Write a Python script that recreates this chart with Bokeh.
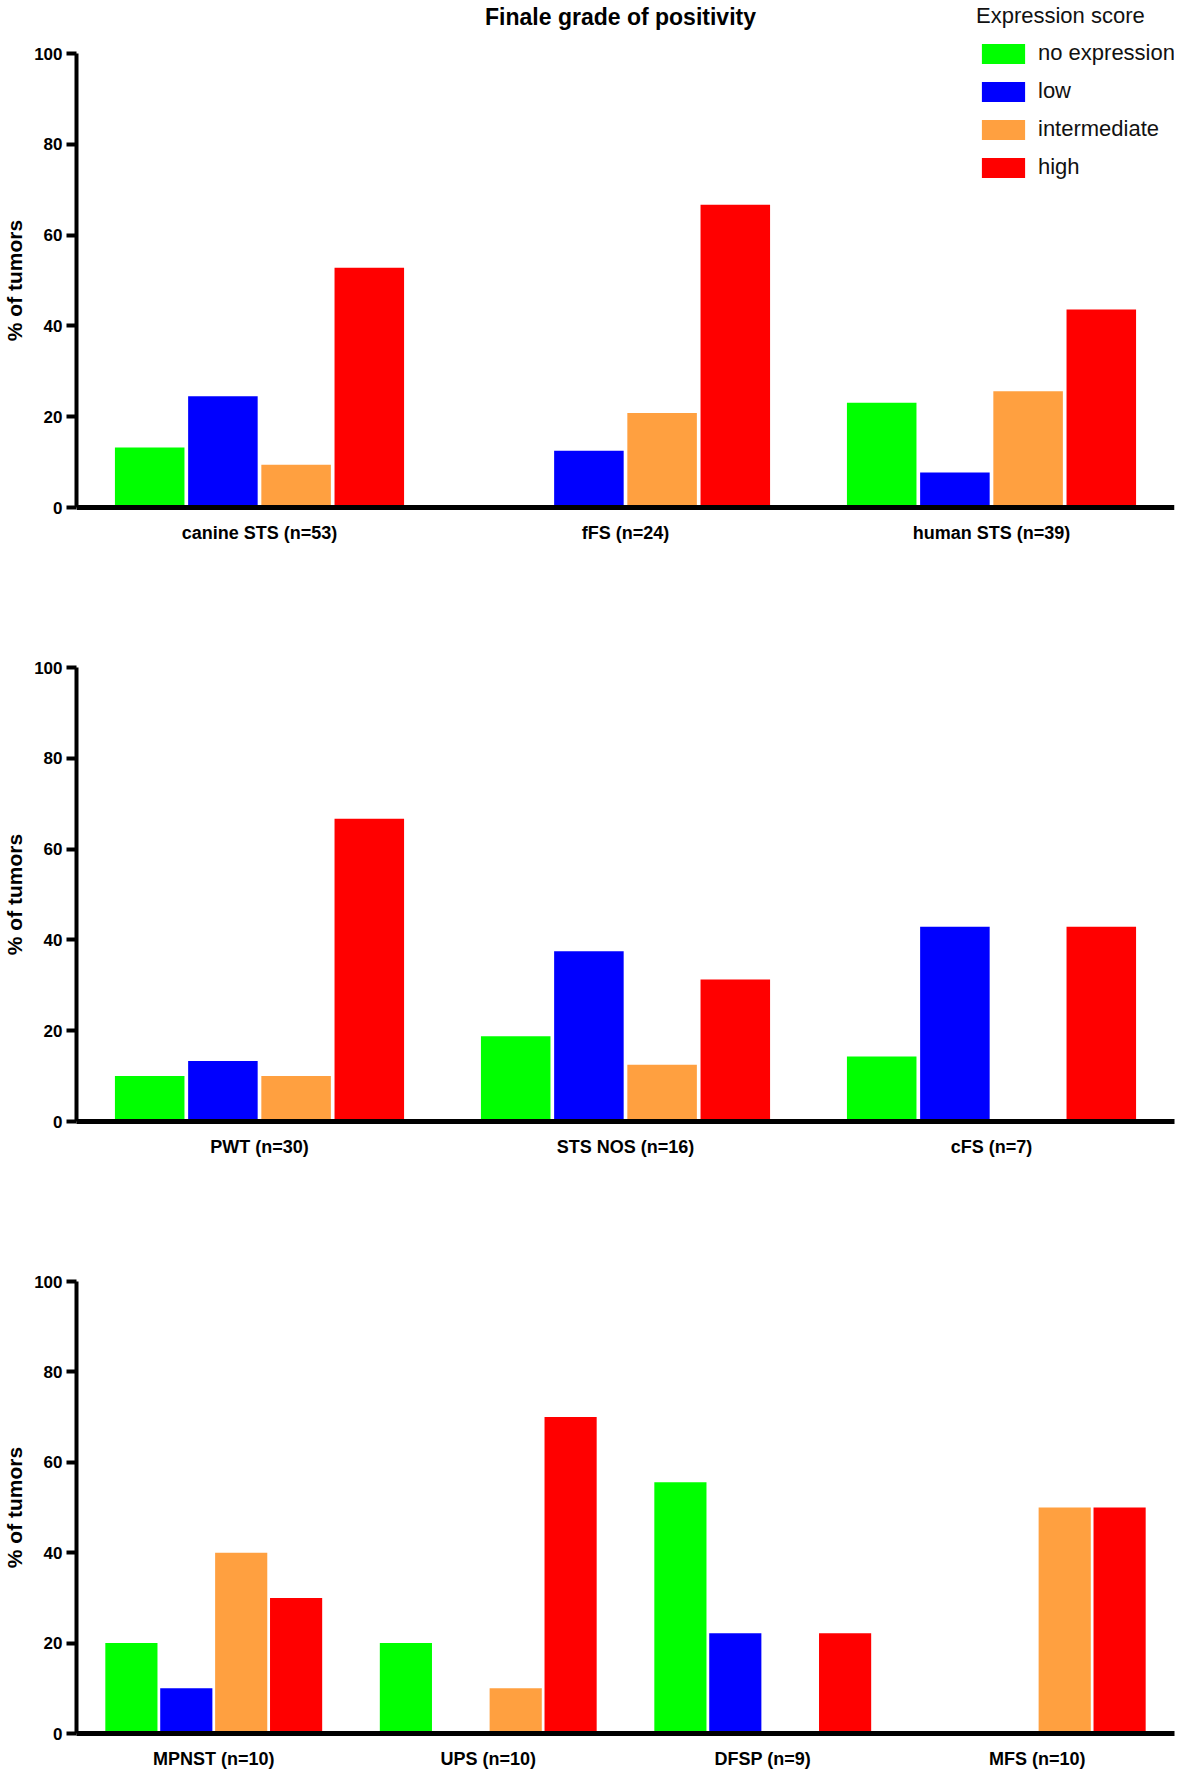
from bokeh.plotting import figure
from bokeh.models import (ColumnDataSource, FactorRange, Range1d, Legend, LegendItem,
                          Label, FixedTicker)
from bokeh.transform import dodge
from bokeh.layouts import column
from bokeh.embed import file_html
from bokeh.resources import INLINE

# ---------------- data ----------------
title_text = "Finale grade of positivity"
legend_title = "Expression score"
scores = ["no expression", "low", "intermediate", "high"]
colors = ["#00FF00", "#0000FF", "#FFA040", "#FF0000"]
y_label = "% of tumors"
y_ticks = [0, 20, 40, 60, 80, 100]

cats_1 = ["canine STS (n=53)", "fFS (n=24)", "human STS (n=39)"]
no_expr_1 = [13.2, 0.0, 23.1]
low_1 = [24.5, 12.5, 7.7]
inter_1 = [9.4, 20.8, 25.6]
high_1 = [52.8, 66.7, 43.6]

cats_2 = ["PWT (n=30)", "STS NOS (n=16)", "cFS (n=7)"]
no_expr_2 = [10.0, 18.8, 14.3]
low_2 = [13.3, 37.5, 42.9]
inter_2 = [10.0, 12.5, 0.0]
high_2 = [66.7, 31.3, 42.9]

cats_3 = ["MPNST (n=10)", "UPS (n=10)", "DFSP (n=9)", "MFS (n=10)"]
no_expr_3 = [20.0, 20.0, 55.6, 0.0]
low_3 = [10.0, 0.0, 22.2, 0.0]
inter_3 = [40.0, 10.0, 0.0, 50.0]
high_3 = [30.0, 70.0, 22.2, 50.0]

# ---------------- layout / style ----------------
FONT = "Liberation Sans"
offsets = [-0.3, -0.1, 0.1, 0.3]
W = 1181
LEFT = 76
RIGHT = 7


def make_panel(cats, series, height, border_top, border_bottom, y_start, y_end,
               label_standoff, axis_at_zero):
    data = dict(cat=cats)
    for i, s in enumerate(series):
        data["s%d" % i] = s
    src = ColumnDataSource(data)
    p = figure(x_range=FactorRange(factors=cats), y_range=Range1d(y_start, y_end),
               width=W, height=height, output_backend="svg", toolbar_location=None,
               min_border_left=LEFT, min_border_right=RIGHT,
               min_border_top=border_top, min_border_bottom=border_bottom)
    rends = []
    for i, (off, col) in enumerate(zip(offsets, colors)):
        r = p.vbar(x=dodge("cat", off, range=p.x_range), top="s%d" % i, width=0.19,
                   source=src, fill_color=col, line_color=None)
        rends.append(r)
    p.xgrid.grid_line_color = None
    p.ygrid.grid_line_color = None
    p.outline_line_color = None
    p.background_fill_color = "white"

    ya = p.yaxis[0]
    ya.ticker = FixedTicker(ticks=y_ticks)
    ya.bounds = (0, 100)
    ya.axis_line_width = 4
    ya.axis_line_color = "black"
    ya.major_tick_line_width = 4
    ya.major_tick_out = 10
    ya.major_tick_in = 0
    ya.minor_tick_out = 0
    ya.minor_tick_in = 0
    ya.major_label_text_font = FONT
    ya.major_label_text_font_style = "bold"
    ya.major_label_text_font_size = "17px"
    ya.major_label_text_color = "black"
    ya.major_label_standoff = 4
    ya.axis_label = y_label
    ya.axis_label_text_font = FONT
    ya.axis_label_text_font_style = "bold"
    ya.axis_label_text_font_size = "21px"
    ya.axis_label_text_color = "black"
    ya.axis_label_standoff = 5

    xa = p.xaxis[0]
    if axis_at_zero:
        xa.fixed_location = 0
    xa.axis_line_width = 5
    xa.axis_line_color = "black"
    xa.major_tick_line_color = None
    xa.major_tick_out = 0
    xa.major_tick_in = 0
    xa.minor_tick_line_color = None
    xa.major_label_text_font = FONT
    xa.major_label_text_font_style = "bold"
    xa.major_label_text_font_size = "18px"
    xa.major_label_text_color = "black"
    xa.major_label_standoff = label_standoff
    return p, rends


# top panel: frame spans from the page top down to 560 px so that the title and
# legend are inside it and the y-axis label is centred on the 0..100 span
TOP_ZERO_PX = 507           # value 0 at 507 px from the top
TOP_100_PX = 53             # value 100 at 53 px from the top
TOP_FRAME_PX = 560          # frame bottom
px_per_unit = (TOP_ZERO_PX - TOP_100_PX) / 100.0
top_start = -(TOP_FRAME_PX - TOP_ZERO_PX) / px_per_unit
top_end = 100 + TOP_100_PX / px_per_unit

p1, r1 = make_panel(cats_1, [no_expr_1, low_1, inter_1, high_1], 600, 0, 40,
                    top_start, top_end, 15, True)
p2, _ = make_panel(cats_2, [no_expr_2, low_2, inter_2, high_2], 610, 67, 89, 0, 100,
                   15, False)
p3, _ = make_panel(cats_3, [no_expr_3, low_3, inter_3, high_3], 563, 71, 40, 0, 100,
                   15, False)

title_baseline_px = 16
title = Label(x=len(cats_1) / 2.0, x_offset=-5,
              y=100 + (TOP_100_PX - title_baseline_px) / px_per_unit,
              text=title_text, text_align="center", text_baseline="alphabetic",
              text_font=FONT, text_font_style="bold", text_font_size="23px",
              text_color="black")
p1.add_layout(title)

legend = Legend(items=[LegendItem(label=s, renderers=[r]) for s, r in zip(scores, r1)],
                location=(900, TOP_FRAME_PX - 180), title=legend_title,
                glyph_width=54, glyph_height=25, label_height=25, label_standoff=8,
                label_text_font=FONT, label_text_font_size="22px", label_text_color="#111111",
                title_text_font=FONT, title_text_font_size="22px", title_text_font_style="normal",
                title_text_color="#111111", title_standoff=11, spacing=12,
                padding=0, margin=0, border_line_color=None, background_fill_alpha=0)
p1.add_layout(legend)

layout = column(p1, p2, p3)
open("out.html", "w").write(file_html(layout, INLINE))
